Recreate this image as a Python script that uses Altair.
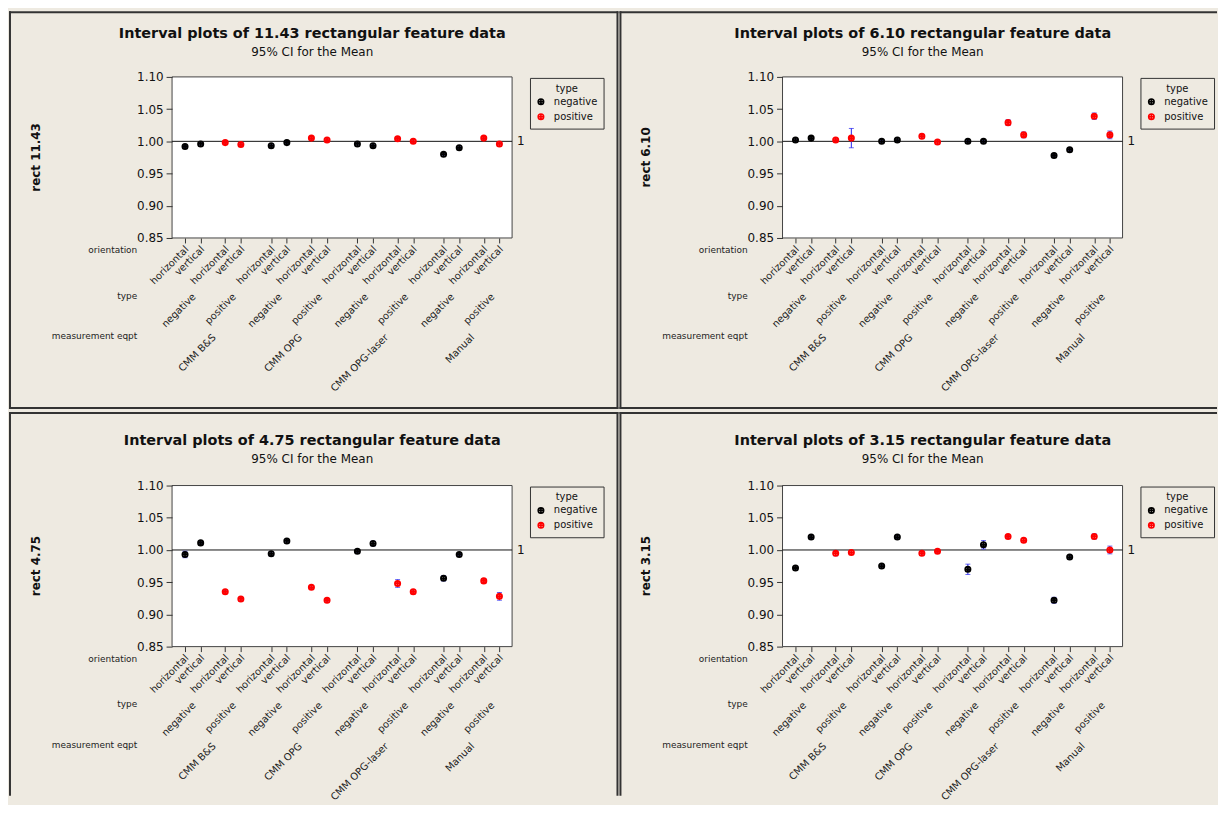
import altair as alt
import pandas as pd

# ---- categories ----
equipment = ["CMM B&S", "CMM OPG", "CMM OPG-laser", "Manual"]
types = ["negative", "positive"]
orientations = ["horizontal", "vertical"]
panel_sizes = ["11.43", "6.10", "4.75", "3.15"]
y_ticks = [0.85, 0.90, 0.95, 1.00, 1.05, 1.10]
ref_value = [1.0]

# ---- means (order: eqpt > type > orientation) ----
means_1143 = [0.992, 0.996, 0.998, 0.995, 0.993, 0.998, 1.005, 1.002,
              0.996, 0.993, 1.004, 1.000, 0.980, 0.990, 1.005, 0.996]
half_1143 = [0.0015, 0.0015, 0.0015, 0.0015, 0.0015, 0.0015, 0.002, 0.0015,
             0.0015, 0.0015, 0.002, 0.002, 0.0015, 0.0015, 0.002, 0.0015]

means_610 = [1.002, 1.005, 1.002, 1.005, 1.000, 1.002, 1.008, 0.999,
             1.000, 1.000, 1.029, 1.010, 0.978, 0.987, 1.039, 1.010]
half_610 = [0.0015, 0.002, 0.0015, 0.015, 0.0015, 0.0015, 0.003, 0.0015,
            0.0015, 0.0015, 0.0045, 0.0045, 0.002, 0.0015, 0.005, 0.006]

means_475 = [0.993, 1.011, 0.935, 0.924, 0.994, 1.014, 0.942, 0.922,
             0.998, 1.010, 0.948, 0.935, 0.956, 0.993, 0.952, 0.928]
half_475 = [0.005, 0.0015, 0.002, 0.002, 0.003, 0.0015, 0.002, 0.0015,
            0.002, 0.0035, 0.006, 0.003, 0.004, 0.0015, 0.003, 0.006]

means_315 = [0.972, 1.020, 0.995, 0.996, 0.975, 1.020, 0.995, 0.998,
             0.970, 1.008, 1.021, 1.015, 0.922, 0.989, 1.021, 1.000]
half_315 = [0.0015, 0.002, 0.004, 0.003, 0.0015, 0.002, 0.003, 0.002,
            0.008, 0.0065, 0.002, 0.003, 0.0045, 0.002, 0.004, 0.006]

# ---- styling / layout ----
W, H = 342, 162
BG = "#EEEAE1"
FRAME = "#333333"
BLUE = "#2222EE"
EQ_STEP, TYPE_STEP = 5.51, 2.57
XMIN, XMAX = -0.83, 3 * EQ_STEP + TYPE_STEP + 1 + 0.81
PLUS_CIRCLE = "M-1,0A1,1,0,1,1,1,0A1,1,0,1,1,-1,0ZM-1,0L1,0M0,-1L0,1"

xs = alt.Scale(domain=[XMIN, XMAX], nice=False, zero=False)
ys = alt.Scale(domain=[0.85, 1.10], nice=False, zero=False)


def positions():
    out = []
    for e in range(len(equipment)):
        for t in range(len(types)):
            for o in range(len(orientations)):
                out.append(e * EQ_STEP + t * TYPE_STEP + o)
    return out


POS = positions()

x_axis = alt.Axis(values=POS, labels=False, domain=False, grid=False, ticks=True,
                  tickSize=5, tickColor=FRAME, title=None, zindex=2)
y_axis = alt.Axis(values=y_ticks, format=".2f", domain=False, grid=False, ticks=True,
                  tickSize=6, tickColor=FRAME, labelFontSize=12, labelColor="#111111",
                  labelPadding=3, title=None, zindex=2)


def X(field):
    return alt.X(field, type="quantitative", scale=xs, axis=x_axis)


def Y(field):
    return alt.Y(field, type="quantitative", scale=ys, axis=y_axis)


def panel(size, means, halfs, left_col, top_row):
    rows = []
    i = 0
    for e, eq in enumerate(equipment):
        for t, ty in enumerate(types):
            for o, ori in enumerate(orientations):
                m = means[i]
                h = halfs[i]
                rows.append(dict(pos=POS[i], mean=m, lo=m - h, hi=m + h,
                                 type=ty, ori=ori))
                i += 1
    df = pd.DataFrame(rows)

    type_rows = []
    for e, eq in enumerate(equipment):
        for t, ty in enumerate(types):
            k = e * 4 + t * 2
            type_rows.append(dict(pos=(POS[k] + POS[k + 1]) / 2, label=ty))
    tdf = pd.DataFrame(type_rows)
    eq_rows = [dict(pos=(POS[e * 4] + POS[e * 4 + 3]) / 2, label=eq)
               for e, eq in enumerate(equipment)]
    edf = pd.DataFrame(eq_rows)
    one = pd.DataFrame({"k": [0]})
    ref = pd.DataFrame({"ref": ref_value})

    left = -164
    right = 449 if left_col else 437
    top = -66 if top_row else -74
    bottom = 334 if top_row else 312
    ty_title = -43 if top_row else -45

    layers = []
    layers.append(alt.Chart(one).mark_rect(fill=BG).encode(
        x=alt.value(left), x2=alt.value(right), y=alt.value(top), y2=alt.value(bottom)))
    # panel frame lines
    layers.append(alt.Chart(one).mark_rule(color=FRAME, strokeWidth=2).encode(
        x=alt.value(left + 1), y=alt.value(top), y2=alt.value(bottom)))
    layers.append(alt.Chart(one).mark_rule(color=FRAME, strokeWidth=2).encode(
        x=alt.value(left), x2=alt.value(right), y=alt.value(top + 1)))
    if left_col:
        layers.append(alt.Chart(one).mark_rule(color=FRAME, strokeWidth=2).encode(
            x=alt.value(right - 1), y=alt.value(top), y2=alt.value(bottom)))
    if top_row:
        layers.append(alt.Chart(one).mark_rule(color=FRAME, strokeWidth=2).encode(
            x=alt.value(left), x2=alt.value(right), y=alt.value(bottom - 1)))
    # plot area
    layers.append(alt.Chart(one).mark_rect(fill="white", stroke="#444444", strokeWidth=1).encode(
        x=alt.value(0), x2=alt.value(W), y=alt.value(0), y2=alt.value(H)))
    # titles
    layers.append(alt.Chart(one).mark_text(fontSize=14.5, fontWeight="bold", color="#111111",
                                           align="center", baseline="middle").encode(
        x=alt.value(141), y=alt.value(ty_title),
        text=alt.value(f"Interval plots of {size} rectangular feature data")))
    layers.append(alt.Chart(one).mark_text(fontSize=12, color="#111111",
                                           align="center", baseline="middle").encode(
        x=alt.value(141), y=alt.value(ty_title + 18), text=alt.value("95% CI for the Mean")))
    layers.append(alt.Chart(one).mark_text(fontSize=12, fontWeight="bold", color="#111111",
                                           align="center", baseline="middle", angle=270).encode(
        x=alt.value(-137), y=alt.value(H / 2), text=alt.value(f"rect {size}")))
    # reference line
    layers.append(alt.Chart(ref).mark_rule(color="#111111", strokeWidth=1).encode(y=Y("ref")))
    layers.append(alt.Chart(ref).mark_text(fontSize=12, color="#111111", align="left",
                                           baseline="middle").encode(
        y=Y("ref"), x=alt.value(W + 5), text=alt.value("1")))
    # CI bars
    layers.append(alt.Chart(df).mark_rule(color=BLUE, strokeWidth=1).encode(
        x=X("pos"), y=Y("lo"), y2="hi"))
    layers.append(alt.Chart(df).mark_tick(color=BLUE, orient="horizontal", size=5,
                                          thickness=1).encode(x=X("pos"), y=Y("lo")))
    layers.append(alt.Chart(df).mark_tick(color=BLUE, orient="horizontal", size=5,
                                          thickness=1).encode(x=X("pos"), y=Y("hi")))
    # means
    layers.append(alt.Chart(df).mark_point(shape=PLUS_CIRCLE, filled=False, size=28,
                                           strokeWidth=1.8, opacity=1).encode(
        x=X("pos"), y=Y("mean"),
        color=alt.Color("type:N", scale=alt.Scale(domain=types, range=["#000000", "#FF0000"]),
                        legend=alt.Legend(title="type", orient="none", legendX=360, legendY=1,
                                          symbolType=PLUS_CIRCLE, symbolSize=30,
                                          symbolStrokeWidth=1.6, fillColor=BG,
                                          strokeColor=FRAME, padding=6,
                                          titleFontSize=10, titleFontWeight="normal",
                                          titleColor="#111111", titleAnchor="middle",
                                          titlePadding=3,
                                          labelFontSize=10, labelColor="#111111",
                                          labelOffset=8, rowPadding=3))))
    # x category labels
    layers.append(alt.Chart(df).mark_text(angle=315, align="right", baseline="middle",
                                          fontSize=10, dx=3, color="#222222").encode(
        x=X("pos"), y=alt.value(H + 12), text="ori:N"))
    layers.append(alt.Chart(tdf).mark_text(angle=315, align="right", baseline="middle",
                                           fontSize=10, dx=2, color="#222222").encode(
        x=X("pos"), y=alt.value(H + 59), text="label:N"))
    layers.append(alt.Chart(edf).mark_text(angle=315, align="right", baseline="middle",
                                           fontSize=10, dx=2, color="#222222").encode(
        x=X("pos"), y=alt.value(H + 100), text="label:N"))
    # row labels
    for yy, lab in [(H + 12, "orientation"), (H + 58, "type"), (H + 99, "measurement eqpt")]:
        layers.append(alt.Chart(one).mark_text(align="right", baseline="middle",
                                               fontSize=9, color="#222222").encode(
            x=alt.value(-35), y=alt.value(yy), text=alt.value(lab)))

    return alt.layer(*layers).properties(width=W, height=H)


p1 = panel(panel_sizes[0], means_1143, half_1143, True, True)
p2 = panel(panel_sizes[1], means_610, half_610, False, True)
p3 = panel(panel_sizes[2], means_475, half_475, True, False)
p4 = panel(panel_sizes[3], means_315, half_315, False, False)

chart = alt.concat(p1, p2, p3, p4, columns=2, spacing={"row": 249, "column": 272},
                   bounds="flush").resolve_scale(
    x="independent", y="independent", color="independent"
).resolve_legend(color="independent").properties(padding=0).configure(
    font="DejaVu Sans", background=BG
).configure_view(strokeWidth=0)

chart.save("out.html", embed_options={"renderer": "svg", "actions": False})
